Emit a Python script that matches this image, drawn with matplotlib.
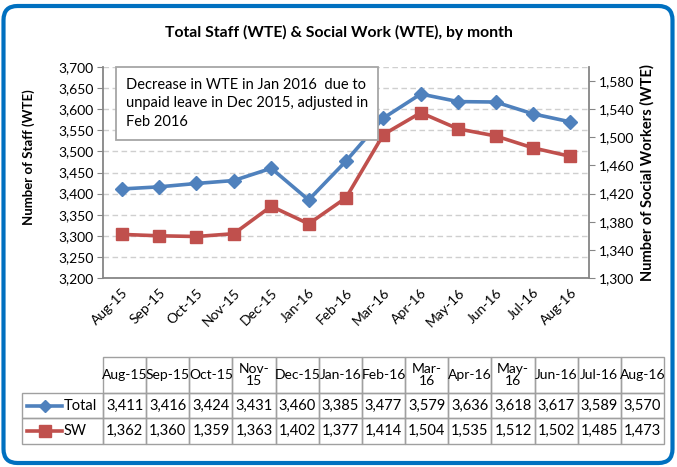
import matplotlib
matplotlib.use('Agg')
import matplotlib.pyplot as plt
from matplotlib.patches import FancyBboxPatch, Rectangle
from matplotlib.lines import Line2D
from matplotlib.ticker import FuncFormatter
import numpy as np

plt.rcParams['font.family'] = ['Lato', 'DejaVu Sans']

# data
months = ['Aug-15', 'Sep-15', 'Oct-15', 'Nov-15', 'Dec-15', 'Jan-16', 'Feb-16',
          'Mar-16', 'Apr-16', 'May-16', 'Jun-16', 'Jul-16', 'Aug-16']
table_heads = ['Aug-15', 'Sep-15', 'Oct-15', 'Nov-\n15', 'Dec-15', 'Jan-16', 'Feb-16',
               'Mar-\n16', 'Apr-16', 'May-\n16', 'Jun-16', 'Jul-16', 'Aug-16']
total = [3411, 3416, 3424, 3431, 3460, 3385, 3477, 3579, 3636, 3618, 3617, 3589, 3570]
sw = [1362, 1360, 1359, 1363, 1402, 1377, 1414, 1504, 1535, 1512, 1502, 1485, 1473]
series_names = ['Total', 'SW']
left_ticks = np.arange(3200, 3701, 50)
right_ticks = np.arange(1300, 1581, 40)
note = 'Decrease in WTE in Jan 2016  due to\nunpaid leave in Dec 2015, adjusted in\nFeb 2016'

BLUE = '#4F81BD'
RED = '#C0504D'
GREY = '#868686'
W, H = 677, 467

fig = plt.figure(figsize=(W / 100, H / 100), dpi=100)

# overlay in pixel coords for frame + table
over = fig.add_axes([0, 0, 1, 1], zorder=0)
over.set_xlim(0, W)
over.set_ylim(H, 0)
over.axis('off')
over.add_patch(FancyBboxPatch((3.5, 6), 669, 457, boxstyle='round,pad=0,rounding_size=14',
                              fc='white', ec='#0070C0', lw=3))

fmt = FuncFormatter(lambda v, p: '{:,.0f}'.format(v))

# main plot
px0, px1, py0, py1 = 103, 589, 67, 278
ax = fig.add_axes([px0 / W, 1 - py1 / H, (px1 - px0) / W, (py1 - py0) / H], zorder=2)
ax.patch.set_alpha(0)
x = np.arange(len(months))
ax.set_xlim(-0.5, len(months) - 0.5)
ax.set_ylim(3200, 3700)
ax.set_yticks(left_ticks)
ax.yaxis.set_major_formatter(fmt)
ax.grid(axis='y', color='#CFCFCF', lw=1, ls=(0, (4, 2.5)))
ax.set_axisbelow(True)
ax.plot(x, total, color=BLUE, lw=2.6, marker='D', ms=7, zorder=3)
ax.set_xticks(x)
ax.set_xticklabels(months, rotation=45, ha='right', va='top', rotation_mode='anchor', fontsize=10)
ax.tick_params(axis='x', length=0, pad=6)
ax.tick_params(axis='y', labelsize=10, length=4, color=GREY, direction='out', pad=3)
for s in ['top', 'right']:
    ax.spines[s].set_visible(False)
for s in ['left', 'bottom']:
    ax.spines[s].set_color(GREY)
    ax.spines[s].set_linewidth(1.3)
ax.set_ylabel('Number of Staff (WTE)', fontsize=9.5, fontweight='bold')
ax.yaxis.set_label_coords(-0.14, 0.573)

ax2 = ax.twinx()
ax2.set_ylim(1300, 1600)
ax2.set_yticks(right_ticks)
ax2.yaxis.set_major_formatter(fmt)
ax2.plot(x, sw, color=RED, lw=2.6, marker='s', ms=8.5, zorder=3)
ax2.tick_params(axis='y', labelsize=10, length=4, color=GREY, direction='out', pad=3)
for s in ['top', 'left', 'bottom']:
    ax2.spines[s].set_visible(False)
ax2.spines['right'].set_color(GREY)
ax2.spines['right'].set_linewidth(1.3)
ax2.set_ylabel('Number of Social Workers (WTE)', fontsize=10.5, fontweight='bold', labelpad=4)

# note box
ax2.text(0.047, 0.95, note, transform=ax.transAxes, ha='left', va='top', fontsize=10.5,
         linespacing=1.45, zorder=10,
         bbox=dict(boxstyle='square,pad=0.7', fc='white', ec='#A6A6A6', lw=1.3))

fig.text(0.5, 1 - 32 / H, 'Total Staff (WTE) & Social Work (WTE), by month',
         ha='center', va='center', fontsize=11.3, fontweight='bold')

# data table
tx0, tx1 = 103, 664
lab_x0 = 22
rows_y = [357, 393, 418, 444]
cw = (tx1 - tx0) / len(months)
tc = '#A0A0A0'
# header cells
for i, h in enumerate(table_heads):
    over.add_patch(Rectangle((tx0 + i * cw, rows_y[0]), cw, rows_y[1] - rows_y[0],
                             fill=False, ec=tc, lw=1))
    over.text(tx0 + (i + 0.5) * cw, (rows_y[0] + rows_y[1]) / 2, h, ha='center', va='center',
              fontsize=10, linespacing=1.0)
for r, (name, vals, col, mk, ms) in enumerate(zip(series_names, [total, sw], [BLUE, RED],
                                                   ['D', 's'], [6, 8])):
    y0, y1 = rows_y[r + 1], rows_y[r + 2]
    yc = (y0 + y1) / 2
    over.add_patch(Rectangle((lab_x0, y0), tx0 - lab_x0, y1 - y0, fill=False, ec=tc, lw=1))
    over.add_line(Line2D([27, 62], [yc, yc], color=col, lw=2.6))
    over.plot([44.5], [yc], marker=mk, ms=ms, color=col)
    over.text(64, yc, name, ha='left', va='center', fontsize=10.5)
    for i, v in enumerate(vals):
        over.add_patch(Rectangle((tx0 + i * cw, y0), cw, y1 - y0, fill=False, ec=tc, lw=1))
        over.text(tx0 + (i + 0.5) * cw, yc, '{:,}'.format(v), ha='center', va='center',
                  fontsize=10.5)

fig.savefig('out.png', dpi=100)
